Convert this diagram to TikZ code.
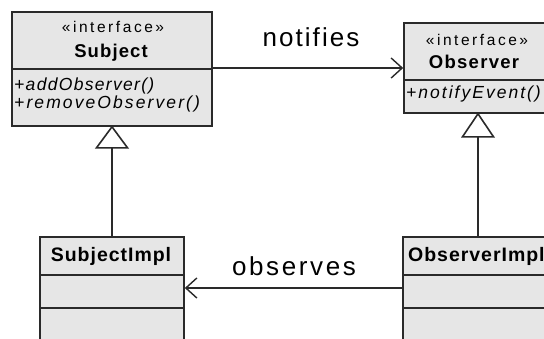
\documentclass[tikz,border=0pt]{standalone}
\usepackage{fontspec}
\setmainfont{Liberation Sans}
\usetikzlibrary{arrows.meta,calc}
\definecolor{boxfill}{HTML}{E6E6E6}
\definecolor{ln}{HTML}{2A2A2A}
\newcommand\lsp[3]{{\fontsize{#1}{#1}\selectfont\addfontfeature{LetterSpace=#2}#3}}
\begin{document}
\begin{tikzpicture}[x=1pt,y=-1pt,
  box/.style={draw=ln, line width=1.6pt, fill=boxfill, inner sep=0pt},
  sep/.style={draw=ln, line width=1.6pt},
  conn/.style={draw=ln, line width=1.6pt},
  txt/.style={inner sep=0pt, text=black},
  gen/.style={draw=ln, line width=1.6pt, fill=white, line join=miter},
  barb/.style={-{Straight Barb[length=11pt,width=20pt,line width=1.4pt]}}]
\useasboundingbox (0,0) rectangle (544,338);
\fill[white] (0,0) rectangle (544,338);
\clip (0,0) rectangle (544,338);
% boxes
\node[box, minimum width=200pt, minimum height=114pt] (subj) at (112,69) {};
\node[box, minimum width=148pt, minimum height=90pt] (obs) at (478,68) {};
\node[box, minimum width=144pt, minimum height=133pt] (simpl) at (112,303.5) {};
\node[box, minimum width=152pt, minimum height=133pt] (oimpl) at (479,303.5) {};
% compartments
\draw[sep] (subj.west |- 0,69) -- (subj.east |- 0,69);
\draw[sep] (obs.west |- 0,80) -- (obs.east |- 0,80);
\draw[sep] (simpl.west |- 0,275) -- (simpl.east |- 0,275);
\draw[sep] (simpl.west |- 0,308) -- (simpl.east |- 0,308);
\draw[sep] (oimpl.west |- 0,275) -- (oimpl.east |- 0,275);
\draw[sep] (oimpl.west |- 0,308) -- (oimpl.east |- 0,308);
% texts
\node[txt, anchor=base] (st1) at (113,32) {\lsp{15.5}{16.5}{«interface»}};
\node[txt, anchor=base] (sn) at (111,57) {\lsp{18.5}{6}{\bfseries Subject}};
\node[txt, anchor=base west] (sm1) at (14,90) {\lsp{17.5}{7.5}{\itshape +addObserver()}};
\node[txt, anchor=base west] (sm2) at (14,108) {\lsp{17.5}{12}{\itshape +removeObserver()}};
\node[txt, anchor=base] (ost) at (477,45) {\lsp{15.5}{16.5}{«interface»}};
\node[txt, anchor=base] (on) at (474,68) {\lsp{18.5}{7}{\bfseries Observer}};
\node[txt, anchor=base west] (om1) at (406,98) {\lsp{17.5}{11.5}{\itshape +notifyEvent()}};
\node[txt, anchor=base] (sin) at (111,261) {\lsp{19.5}{5}{\bfseries SubjectImpl}};
\node[txt, anchor=base west] (oin) at (408,261) {\lsp{19.5}{5}{\bfseries ObserverImpl}};
% associations
\coordinate (na) at (212,68);
\draw[conn, barb] (na) -- (na -| obs.west);
\node[txt, anchor=base] (lnot) at (311,46) {\lsp{26}{8}{notifies}};
\coordinate (ob) at (403,288);
\draw[conn, barb] (ob) -- (ob -| simpl.east);
\node[txt, anchor=base] (lobs) at (294,275) {\lsp{26}{10}{observes}};
% generalizations
\draw[gen] (subj.south) -- ++(-15.5,21) -- ++(31,0) -- cycle;
\draw[conn] ($(subj.south)+(0,21)$) -- (simpl.north);
\draw[gen] (obs.south) -- ++(-15.5,23) -- ++(31,0) -- cycle;
\draw[conn] ($(obs.south)+(0,23)$) -- (oimpl.north -| obs.south);
\end{tikzpicture}
\end{document}
